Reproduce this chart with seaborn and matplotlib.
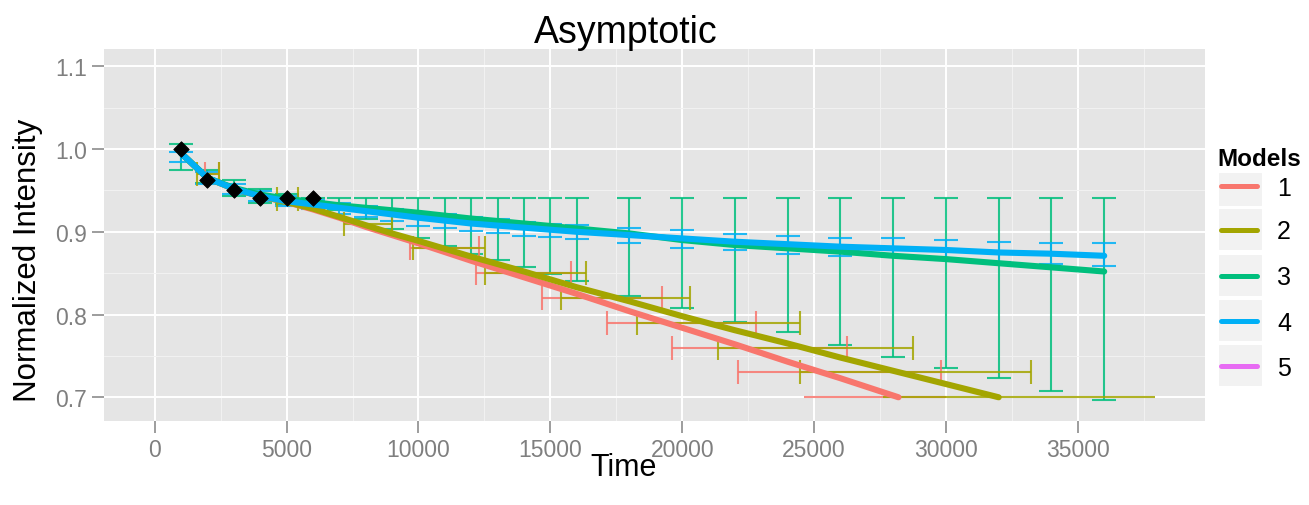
import numpy as np
import pandas as pd
import matplotlib
matplotlib.use('Agg')
import matplotlib.pyplot as plt
import seaborn as sns
from matplotlib.patches import Rectangle
from matplotlib.lines import Line2D
from matplotlib.ticker import MultipleLocator

# observed points (black diamonds)
obs_time = [1000, 2000, 3000, 4000, 5000, 6000]
obs_int = [1.0, 0.962, 0.951, 0.941, 0.941, 0.941]

# fitted curves, one per model
m1_time = [1000, 2000, 3000, 4000, 5000, 6000, 7000, 8000, 9000, 10000,
           12000, 14000, 16000, 18000, 20000, 22000, 24000, 26000, 28200]
m1_int = [0.995, 0.965, 0.952, 0.943, 0.936, 0.927, 0.917, 0.906, 0.896, 0.886,
          0.865, 0.845, 0.825, 0.804, 0.784, 0.764, 0.743, 0.723, 0.700]
m2_time = [1000, 2000, 3000, 4000, 5000, 6000, 7000, 8000, 9000, 10000,
           12000, 14000, 16000, 18000, 20000, 22000, 24000, 26000, 28000, 30000, 32000]
m2_int = [0.995, 0.965, 0.952, 0.943, 0.936, 0.928, 0.918, 0.908, 0.898, 0.889,
          0.870, 0.852, 0.833, 0.816, 0.798, 0.781, 0.765, 0.748, 0.732, 0.716, 0.700]
m34_time = [1000, 2000, 3000, 4000, 5000, 6000, 7000, 8000, 9000, 10000,
            12000, 14000, 16000, 18000, 20000, 22000, 24000, 26000, 28000, 30000,
            32000, 34000, 36000]
m3_int = [0.995, 0.965, 0.953, 0.945, 0.940, 0.936, 0.932, 0.929, 0.926, 0.923,
          0.916, 0.910, 0.904, 0.898, 0.890, 0.884, 0.880, 0.876, 0.871, 0.867,
          0.862, 0.857, 0.852]
m4_int = [0.995, 0.965, 0.952, 0.943, 0.937, 0.933, 0.929, 0.925, 0.921, 0.917,
          0.910, 0.905, 0.900, 0.896, 0.892, 0.888, 0.885, 0.882, 0.880, 0.878,
          0.875, 0.8735, 0.871]

# vertical error bars (models 3 and 4)
bar_time = [1000, 2000, 3000, 4000, 5000, 6000, 7000, 8000, 9000, 10000, 11000, 12000,
            13000, 14000, 15000, 16000, 18000, 20000, 22000, 24000, 26000, 28000,
            30000, 32000, 34000, 36000]
m3_hi = [1.0065, 0.975, 0.9625, 0.952, 0.946, 0.941, 0.941, 0.941, 0.941, 0.941, 0.941,
         0.941, 0.941, 0.941, 0.941, 0.941, 0.941, 0.941, 0.941, 0.941, 0.941, 0.941,
         0.941, 0.941, 0.941, 0.941]
m3_lo = [0.975, 0.9585, 0.9436, 0.935, 0.933, 0.930, 0.926, 0.915, 0.903, 0.892, 0.883,
         0.873, 0.866, 0.857, 0.849, 0.840, 0.823, 0.808, 0.791, 0.7785, 0.763, 0.749,
         0.735, 0.723, 0.708, 0.697]
m4_hi = [0.997, 0.972, 0.958, 0.949, 0.943, 0.939, 0.935, 0.931, 0.928, 0.924, 0.921,
         0.918, 0.915, 0.912, 0.910, 0.908, 0.905, 0.9025, 0.897, 0.895, 0.893, 0.893,
         0.890, 0.888, 0.886, 0.886]
m4_lo = [0.984, 0.958, 0.946, 0.937, 0.931, 0.927, 0.922, 0.918, 0.913, 0.907, 0.904,
         0.9005, 0.8985, 0.8953, 0.8933, 0.891, 0.886, 0.881, 0.878, 0.873, 0.871, 0.869,
         0.866, 0.864, 0.861, 0.859]

# horizontal error bars (models 1 and 2)
m1_rows = [0.97, 0.88, 0.85, 0.82, 0.79, 0.76, 0.73]
m1_left = [1900, 9680, 12190, 14670, 17140, 19630, 22130]
m1_right = [2450, 12310, 15780, 19250, 22800, 26260, 29800]
m2_rows = [0.97, 0.94, 0.91, 0.88, 0.85, 0.82, 0.79, 0.76, 0.73]
m2_left = [1600, 4630, 7170, 9810, 12530, 15400, 18270, 21370, 24470]
m2_right = [2450, 5450, 9000, 12520, 16350, 20300, 24470, 28760, 33220]
# bottom row (drawn without caps)
m1_floor = [24600, 30000]
m2_floor = [27600, 37920]
floor_int = 0.70

models = ['1', '2', '3', '4', '5']
colors = ['#F8766D', '#A3A500', '#00BF7D', '#00B0F6', '#E76BF3']
pal = dict(zip(models, colors))

sns.set_theme(style='darkgrid', rc={
    'axes.facecolor': '#E5E5E5',
    'grid.color': 'white',
    'grid.linewidth': 1.4,
    'text.color': 'black',
})
plt.rcParams['font.family'] = ['Liberation Sans', 'DejaVu Sans']

W, H = 1309, 506
fx = lambda px: px / W
fy = lambda py: 1 - py / H

fig = plt.figure(figsize=(W / 100, H / 100), dpi=100)
ax = fig.add_axes([fx(104.3), fy(421.7), fx(1205) - fx(104.3), fy(50) - fy(421.7)])

# error bars
eb = dict(fmt='none', elinewidth=1.5, capthick=1.5, capsize=8.3, alpha=0.85, zorder=2)
m3_hi_a, m3_lo_a = np.array(m3_hi), np.array(m3_lo)
m4_hi_a, m4_lo_a = np.array(m4_hi), np.array(m4_lo)
ax.errorbar(bar_time, (m3_hi_a + m3_lo_a) / 2, yerr=(m3_hi_a - m3_lo_a) / 2,
            ecolor=pal['3'], **eb)
ax.errorbar(bar_time, (m4_hi_a + m4_lo_a) / 2, yerr=(m4_hi_a - m4_lo_a) / 2,
            ecolor=pal['4'], **eb)
for rows, left, right, key in [(m1_rows, m1_left, m1_right, '1'),
                               (m2_rows, m2_left, m2_right, '2')]:
    l, r = np.array(left), np.array(right)
    ax.errorbar((l + r) / 2, rows, xerr=(r - l) / 2, ecolor=pal[key], **eb)
ax.hlines(floor_int, m1_floor[0], m1_floor[1], color=pal['1'], lw=1.5, alpha=0.85, zorder=2)
ax.hlines(floor_int, m2_floor[0], m2_floor[1], color=pal['2'], lw=1.5, alpha=0.85, zorder=2)

# fitted lines
fit_df = pd.concat([
    pd.DataFrame({'Time': m1_time, 'Intensity': m1_int, 'Model': '1'}),
    pd.DataFrame({'Time': m2_time, 'Intensity': m2_int, 'Model': '2'}),
    pd.DataFrame({'Time': m34_time, 'Intensity': m3_int, 'Model': '3'}),
    pd.DataFrame({'Time': m34_time, 'Intensity': m4_int, 'Model': '4'}),
])
sns.lineplot(data=fit_df, x='Time', y='Intensity', hue='Model', hue_order=models[:4],
             palette=pal, linewidth=4.4, estimator=None, sort=False, legend=False,
             ax=ax, zorder=3)

sns.scatterplot(x=obs_time, y=obs_int, marker='D', s=62, color='black',
                edgecolor='black', ax=ax, zorder=5)

ax.set_xlim(-1911, 39822)
ax.set_ylim(0.6717, 1.1209)
ax.set_xticks(range(0, 35001, 5000))
ax.set_yticks([0.7, 0.8, 0.9, 1.0, 1.1])
ax.set_yticklabels(['0.7', '0.8', '0.9', '1.0', '1.1'])
ax.xaxis.set_minor_locator(MultipleLocator(2500))
ax.yaxis.set_minor_locator(MultipleLocator(0.05))
ax.grid(which='major', color='white', lw=1.4)
ax.grid(which='minor', color='#F2F2F2', lw=0.7)
ax.set_axisbelow(True)
ax.tick_params(which='major', bottom=True, left=True, length=8.5, width=1.2,
               color='#8C8C8C', labelcolor='#7F7F7F', labelsize=16.5, pad=4)
ax.tick_params(which='minor', length=0)
ax.set_xlabel('')
ax.set_ylabel('')
for s in ax.spines.values():
    s.set_visible(False)

fig.text(fx(626), fy(42.7), 'Asymptotic', ha='center', va='baseline', fontsize=27)
fig.text(fx(624), fy(476), 'Time', ha='center', va='baseline', fontsize=22)
fig.text(fx(28), fy(260), 'Normalized Intensity', rotation=90, ha='center',
         va='center', fontsize=22.5)

# legend
fig.text(fx(1217), fy(166), 'Models', ha='left', va='baseline', fontsize=17.5,
         fontweight='bold')
row_y = [187, 230.7, 276.7, 322.3, 367.3]
for key, yc in zip(models, row_y):
    top = 173 if key == '1' else yc - 22
    fig.patches.append(Rectangle((fx(1218), fy(yc + 21)), fx(45), (yc + 21 - top) / H,
                                 transform=fig.transFigure, facecolor='#F2F2F2',
                                 edgecolor='white', lw=1.5, zorder=1))
    fig.lines.append(Line2D([fx(1221), fx(1257)], [fy(yc), fy(yc)],
                            transform=fig.transFigure, color=pal[key], lw=3.6,
                            zorder=2))
    fig.text(fx(1277), fy(yc + 8.5), key, ha='left', va='baseline', fontsize=18)

fig.savefig('out.png', dpi=100)
